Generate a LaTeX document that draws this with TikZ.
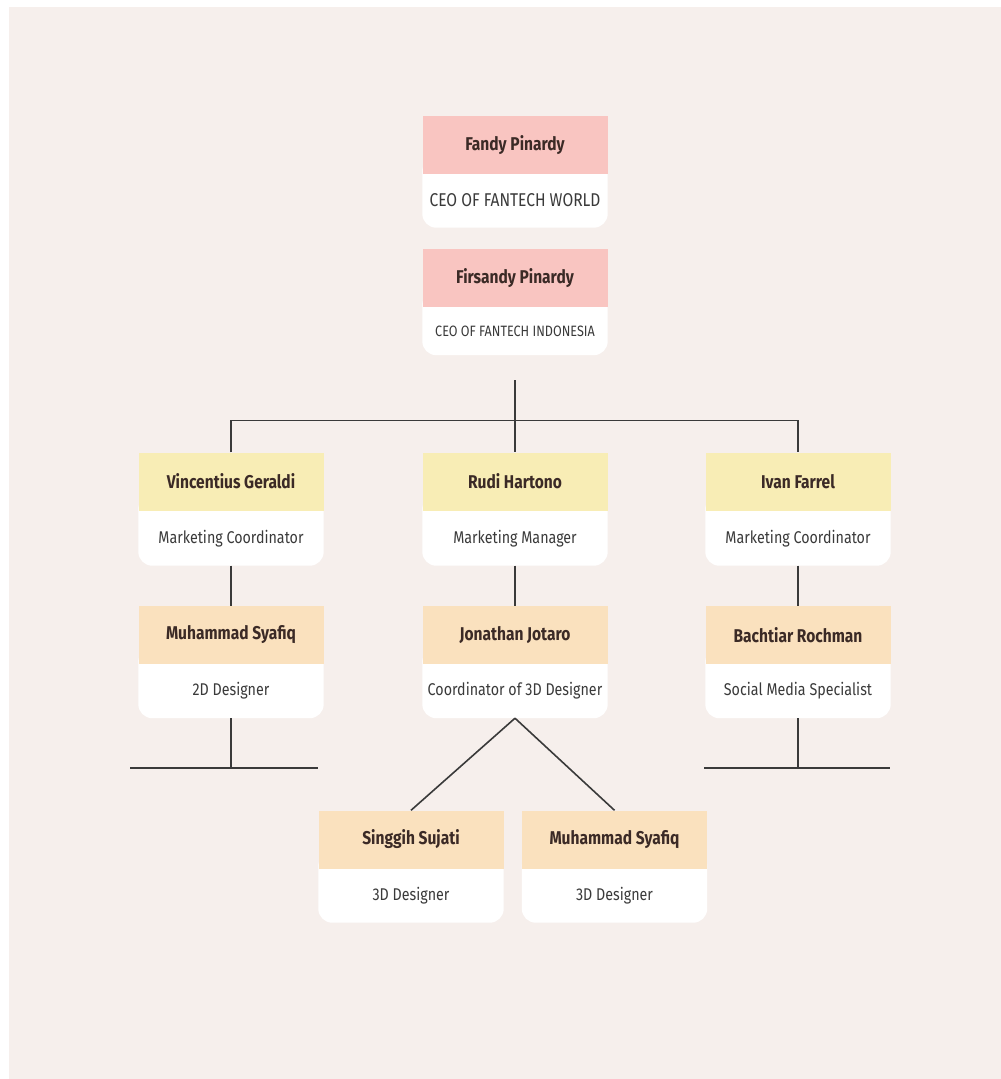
\documentclass[tikz,border=0pt]{standalone}
\usepackage{fontspec}
\setmainfont{Fira Sans}[FakeStretch=0.84]
\usetikzlibrary{backgrounds}

\definecolor{bgbeige}{HTML}{F6EFEC}
\definecolor{ceopink}{HTML}{F9C5C1}
\definecolor{leadyellow}{HTML}{F8EDB5}
\definecolor{staffpeach}{HTML}{FAE1BE}
\definecolor{inkbrown}{HTML}{3B2A26}
\definecolor{inkgray}{HTML}{3A3A3A}

\begin{document}
\begin{tikzpicture}[x=1pt, y=-1pt,
    headbox/.style={rectangle, minimum width=185pt, minimum height=58pt, inner sep=0pt,
        text=inkbrown, font=\fontsize{18.5}{22}\selectfont\bfseries},
    rolebox/.style={rectangle, minimum width=185pt, minimum height=54pt, inner sep=0pt,
        text=inkgray, font=\fontsize{17}{20}\selectfont},
    link/.style={line width=1.6pt, inkgray}]

    \useasboundingbox (0,0) rectangle (1001,1079);

    \node[headbox, fill=ceopink] (1) at (515,145) {Fandy Pinardy};
    \node[rolebox, font=\fontsize{18.5}{22}\selectfont] (1b) at (515,200.5) {CEO OF FANTECH WORLD};

    \node[headbox, fill=ceopink] (2) at (515,278) {Firsandy Pinardy};
    \node[rolebox, minimum height=48pt, font=\fontsize{15}{18}\selectfont] (2b) at (515,331) {CEO OF FANTECH INDONESIA};

    \node[headbox, fill=leadyellow] (3) at (231,481.5) {Vincentius Geraldi};
    \node[rolebox] (3b) at (231,538.5) {Marketing Coordinator};
    \node[headbox, fill=leadyellow] (4) at (515,481.5) {Rudi Hartono};
    \node[rolebox] (4b) at (515,538.5) {Marketing Manager};
    \node[headbox, fill=leadyellow] (5) at (798,481.5) {Ivan Farrel};
    \node[rolebox] (5b) at (798,538.5) {Marketing Coordinator};

    \node[headbox, fill=staffpeach] (6) at (231,635) {Muhammad Syafiq};
    \node[rolebox] (6b) at (231,691) {2D Designer};
    \node[headbox, fill=staffpeach] (7) at (515,635) {Jonathan Jotaro};
    \node[rolebox] (7b) at (515,691) {Coordinator of 3D Designer};
    \node[headbox, fill=staffpeach] (8) at (798,635) {Bachtiar Rochman};
    \node[rolebox] (8b) at (798,691) {Social Media Specialist};

    \node[headbox, fill=staffpeach] (9) at (411,839.5) {Singgih Sujati};
    \node[rolebox] (9b) at (411,895.5) {3D Designer};
    \node[headbox, fill=staffpeach] (10) at (614.5,839.5) {Muhammad Syafiq};
    \node[rolebox] (10b) at (614.5,895.5) {3D Designer};

    \coordinate (hub) at ([yshift=-25pt]2b.south);
    \coordinate (l1) at (130,768);
    \coordinate (l2) at (318,768);
    \coordinate (r1) at (704,768);
    \coordinate (r2) at (890,768);

    \draw[link] (hub) -- (4.north);
    \draw[link] (3.north) -- ++(0,-32) -| (5.north);

    \draw[link] (3b) -- (6);
    \draw[link] (4b) -- (7);
    \draw[link] (5b) -- (8);

    \draw[link] (6b.south) -- (6b.south |- l1);
    \draw[link] (l1) -- (l2);
    \draw[link] (8b.south) -- (8b.south |- r1);
    \draw[link] (r1) -- (r2);

    \draw[link] (7b.south) -- (9.north);
    \draw[link] (7b.south) -- (10.north);

    % page and white cards behind the nodes
    \begin{scope}[on background layer]
        \fill[white] (0,0) rectangle (1001,1079);
        \fill[bgbeige] (9,7) rectangle (1001,1079);
        \foreach \k in {1b,2b,3b,4b,5b,6b,7b,8b,9b,10b}
            \fill[white, rounded corners=14pt] (\k.south west) rectangle ([yshift=16pt]\k.north east);
    \end{scope}

\end{tikzpicture}
\end{document}
